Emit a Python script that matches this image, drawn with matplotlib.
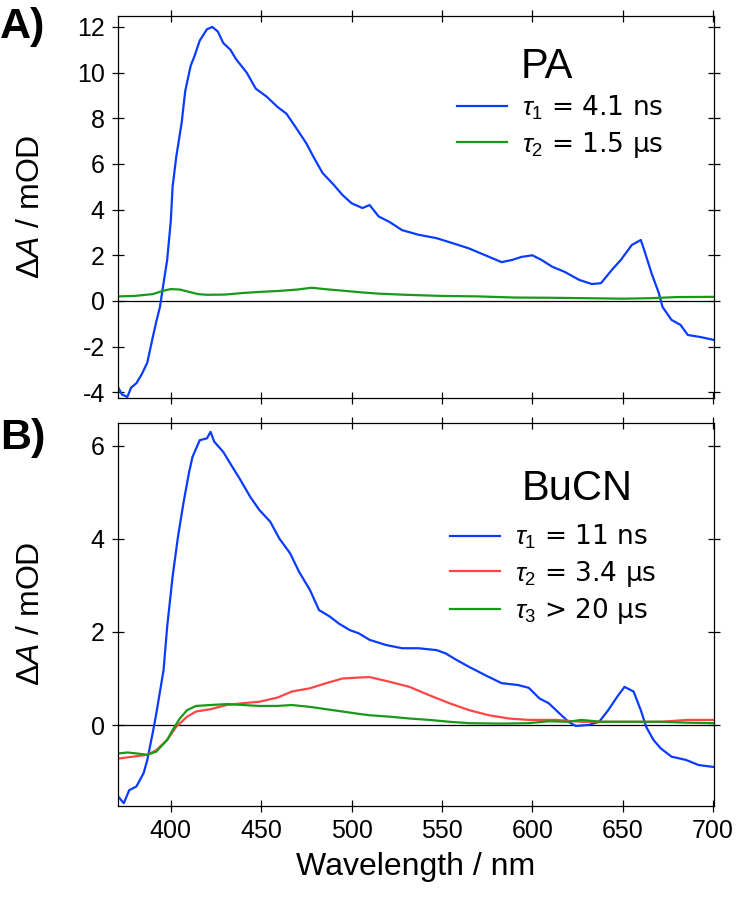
import matplotlib
matplotlib.use('Agg')
import matplotlib.pyplot as plt

plt.rcParams['font.family'] = ['Liberation Sans', 'DejaVu Sans']
plt.rcParams['mathtext.fontset'] = 'custom'
plt.rcParams['mathtext.rm'] = 'Liberation Sans'
plt.rcParams['mathtext.it'] = 'Liberation Sans:italic'
plt.rcParams['axes.unicode_minus'] = False

# panel A (PA)
pa_t1_wl = [371, 373, 376, 378, 381, 384, 387, 390, 392, 394, 396, 398, 400, 401, 403, 406, 408, 411, 413, 416,
            420, 423, 426, 429, 433, 436, 442, 447, 453, 459, 464, 470, 475, 479, 484, 490, 495, 500, 506, 510,
            515, 521, 528, 537, 547, 556, 565, 574, 583, 589, 594, 600, 605, 611, 618, 626, 633, 638, 644, 649,
            655, 660, 662, 666, 670, 672, 677, 682, 686, 693, 700]
pa_t1 = [-3.8, -4.1, -4.2, -3.8, -3.6, -3.2, -2.7, -1.6, -0.9, -0.26, 0.78, 1.8, 3.5, 5.0, 6.3, 7.8, 9.2, 10.3, 10.7, 11.4,
         11.9, 12.0, 11.8, 11.3, 11.0, 10.6, 10.0, 9.3, 8.95, 8.5, 8.2, 7.5, 6.9, 6.3, 5.6, 5.1, 4.64, 4.28, 4.07, 4.2,
         3.7, 3.46, 3.1, 2.9, 2.75, 2.53, 2.3, 2.0, 1.7, 1.8, 1.93, 2.0, 1.8, 1.5, 1.27, 0.92, 0.74, 0.78, 1.36, 1.8,
         2.45, 2.67, 2.2, 1.2, 0.34, -0.26, -0.83, -1.05, -1.49, -1.58, -1.7]
pa_t2_wl = [371, 380, 390, 396, 400, 405, 410, 415, 420, 430, 440, 450, 460, 470, 478, 485, 495, 505, 515, 530,
            550, 570, 590, 610, 630, 650, 665, 680, 700]
pa_t2 = [0.2, 0.22, 0.3, 0.45, 0.52, 0.5, 0.4, 0.3, 0.27, 0.28, 0.35, 0.4, 0.44, 0.5, 0.58, 0.52, 0.45, 0.38, 0.32, 0.27,
         0.22, 0.2, 0.15, 0.14, 0.12, 0.1, 0.12, 0.17, 0.18]

# panel B (BuCN)
bu_t1_wl = [371, 374, 377, 381, 385, 387, 390, 392, 396, 398, 401, 404, 407, 410, 412, 416, 420, 422, 424, 429,
            434, 438, 444, 449, 455, 460, 466, 471, 477, 482, 488, 493, 499, 504, 510, 519, 528, 537, 547, 552,
            558, 565, 574, 583, 592, 598, 604, 609, 615, 620, 624, 631, 637, 642, 647, 651, 656, 660, 663, 667,
            671, 677, 685, 692, 700]
bu_t1 = [-1.54, -1.68, -1.4, -1.32, -1.03, -0.75, -0.17, 0.25, 1.18, 2.11, 3.19, 4.05, 4.77, 5.41, 5.76, 6.12, 6.16, 6.3, 6.09, 5.87,
         5.55, 5.3, 4.9, 4.62, 4.37, 4.01, 3.69, 3.29, 2.9, 2.47, 2.33, 2.18, 2.04, 1.97, 1.83, 1.72, 1.65, 1.65, 1.61, 1.54,
         1.4, 1.25, 1.07, 0.9, 0.86, 0.8, 0.57, 0.47, 0.25, 0.07, -0.02, 0.0, 0.07, 0.32, 0.61, 0.82, 0.72, 0.32, -0.04, -0.32,
         -0.5, -0.68, -0.75, -0.86, -0.9]
bu_t2_wl = [371, 379, 387, 392, 398, 403, 409, 414, 422, 431, 440, 449, 459, 467, 477, 486, 495, 504, 510, 521,
            532, 543, 554, 565, 576, 587, 598, 613, 627, 642, 657, 671, 686, 700]
bu_t2 = [-0.72, -0.68, -0.64, -0.54, -0.32, -0.04, 0.18, 0.29, 0.34, 0.43, 0.47, 0.5, 0.59, 0.72, 0.79, 0.9, 1.0, 1.02, 1.03, 0.93,
         0.82, 0.64, 0.47, 0.32, 0.21, 0.14, 0.11, 0.11, 0.07, 0.07, 0.07, 0.07, 0.11, 0.11]
bu_t3_wl = [371, 376, 381, 387, 392, 398, 401, 405, 409, 414, 422, 431, 440, 449, 459, 467, 477, 486, 495, 504,
            510, 521, 532, 543, 554, 565, 583, 598, 609, 620, 627, 638, 657, 671, 686, 700]
bu_t3 = [-0.61, -0.59, -0.61, -0.64, -0.57, -0.32, -0.11, 0.14, 0.32, 0.41, 0.43, 0.45, 0.43, 0.41, 0.41, 0.43, 0.39, 0.34, 0.29, 0.24,
         0.21, 0.18, 0.14, 0.11, 0.07, 0.04, 0.03, 0.04, 0.08, 0.07, 0.11, 0.07, 0.07, 0.07, 0.05, 0.04]

blue = '#0a3cff'
red = '#ff4545'
green = '#179a17'

fig = plt.figure(figsize=(7.38, 8.98), dpi=100)
W, H = 738, 898
axA = fig.add_axes([118 / W, 1 - 398 / H, 596 / W, 382 / H])
axB = fig.add_axes([118 / W, 1 - 806 / H, 596 / W, 383 / H])

for ax in (axA, axB):
    ax.axhline(0, color='black', lw=0.9)
    ax.set_xlim(370.8, 700.5)
    ax.set_xticks([400, 450, 500, 550, 600, 650, 700])
    ax.tick_params(direction='inout', length=9, width=0.9, top=True, right=True,
                   labelsize=18, pad=5)
    for s in ax.spines.values():
        s.set_linewidth(0.9)

leg_font = {'family': 'DejaVu Sans', 'size': 19}

axA.plot(pa_t1_wl, pa_t1, color=blue, lw=1.6, label=r'$\tau_1$ = 4.1 ns')
axA.plot(pa_t2_wl, pa_t2, color=green, lw=1.6, label=r'$\tau_2$ = 1.5 µs')
axA.set_ylim(-4.25, 12.48)
axA.set_yticks([-4, -2, 0, 2, 4, 6, 8, 10, 12])
axA.tick_params(labelbottom=False)
axA.text(0.72, 0.838, 'PA', transform=axA.transAxes, fontsize=30, ha='center', va='baseline')
axA.legend(loc='upper left', bbox_to_anchor=(0.569, 0.797), frameon=False, prop=leg_font,
           handlelength=1.9, handletextpad=0.55, labelspacing=0.3, borderpad=0, borderaxespad=0)

axB.plot(bu_t1_wl, bu_t1, color=blue, lw=1.6, label=r'$\tau_1$ = 11 ns')
axB.plot(bu_t2_wl, bu_t2, color=red, lw=1.6, label=r'$\tau_2$ = 3.4 µs')
axB.plot(bu_t3_wl, bu_t3, color=green, lw=1.6, label=r'$\tau_3$ > 20 µs')
axB.set_ylim(-1.74, 6.49)
axB.set_yticks([0, 2, 4, 6])
axB.text(0.77, 0.799, 'BuCN', transform=axB.transAxes, fontsize=30, ha='center', va='baseline')
axB.legend(loc='upper left', bbox_to_anchor=(0.557, 0.739), frameon=False, prop=leg_font,
           handlelength=1.9, handletextpad=0.55, labelspacing=0.28, borderpad=0, borderaxespad=0)
axB.set_xlabel('Wavelength / nm', fontsize=23, labelpad=6)

ylab = r'$\mathit{\Delta A}$ / mOD'
fig.text(31 / W, 1 - 207 / H, ylab, rotation=90, ha='center', va='center', fontsize=23)
fig.text(31 / W, 1 - 614 / H, ylab, rotation=90, ha='center', va='center', fontsize=23)

fig.text(0.0, 1 - 38 / H, 'A)', fontsize=31, fontweight='bold', ha='left', va='baseline')
fig.text(0.0, 1 - 449 / H, 'B)', fontsize=31, fontweight='bold', ha='left', va='baseline')

fig.savefig('out.png', dpi=100)
